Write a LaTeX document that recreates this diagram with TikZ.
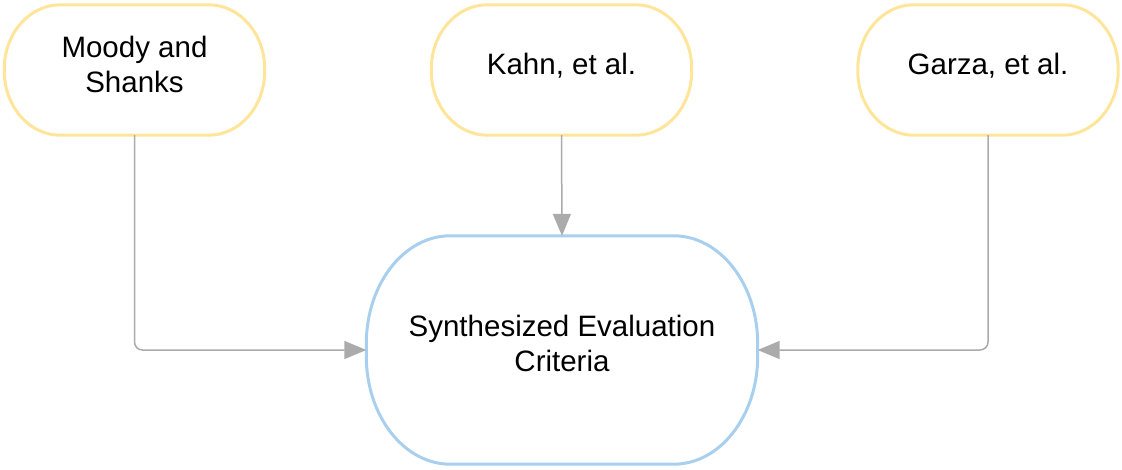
\documentclass[tikz,border=0pt]{standalone}
\usepackage{fontspec}
\setmainfont{Liberation Sans}
\usetikzlibrary{arrows.meta}
\definecolor{srcyellow}{HTML}{FFE599}
\definecolor{tgtblue}{HTML}{A9CFEE}
\definecolor{conngrey}{HTML}{ABABAB}
\newcommand{\drawcapsule}[4]{%
  \draw[#4, line width=3pt]
  ([xshift=#2]#1.north west) -- ([xshift=-#2]#1.north east)
  arc[start angle=90, end angle=0, x radius=#2, y radius=#3]
  -- ([yshift=#3]#1.south east)
  arc[start angle=0, end angle=-90, x radius=#2, y radius=#3]
  -- ([xshift=#2]#1.south west)
  arc[start angle=270, end angle=180, x radius=#2, y radius=#3]
  -- ([yshift=-#3]#1.north west)
  arc[start angle=180, end angle=90, x radius=#2, y radius=#3]
  -- cycle;}
\tikzset{
  srcbox/.style={draw=none, rectangle,
    minimum width=260pt, minimum height=130pt, align=center,
    text depth=12pt,
    font=\fontsize{29.5}{35}\selectfont},
  tgtbox/.style={draw=none, rectangle, minimum width=391pt, minimum height=228pt,
    align=center, text depth=14pt, font=\fontsize{29.5}{35}\selectfont},
  conn/.style={draw=conngrey, line width=1.5pt, rounded corners=8pt,
    -{Triangle[length=22pt,width=18pt,fill=conngrey]}}
}
\begin{document}
\begin{tikzpicture}[x=1pt,y=-1pt]
\useasboundingbox (0,0) rectangle (1122,469);
\node[srcbox] (m) at (134.5,70) {Moody and\\Shanks};
\node[srcbox] (k) at (561.5,70) {Kahn, et al.};
\node[srcbox] (g) at (988,70) {Garza, et al.};
\node[tgtbox] (b) at (562,350) {Synthesized Evaluation\\Criteria};
\drawcapsule{m}{56pt}{64pt}{srcyellow}
\drawcapsule{k}{56pt}{64pt}{srcyellow}
\drawcapsule{g}{56pt}{64pt}{srcyellow}
\drawcapsule{b}{84pt}{108pt}{tgtblue}
\draw[conn] (m.south) |- (b.west);
\draw[conn] (k.south) -- (b.north);
\draw[conn] (g.south) |- (b.east);
\end{tikzpicture}
\end{document}
